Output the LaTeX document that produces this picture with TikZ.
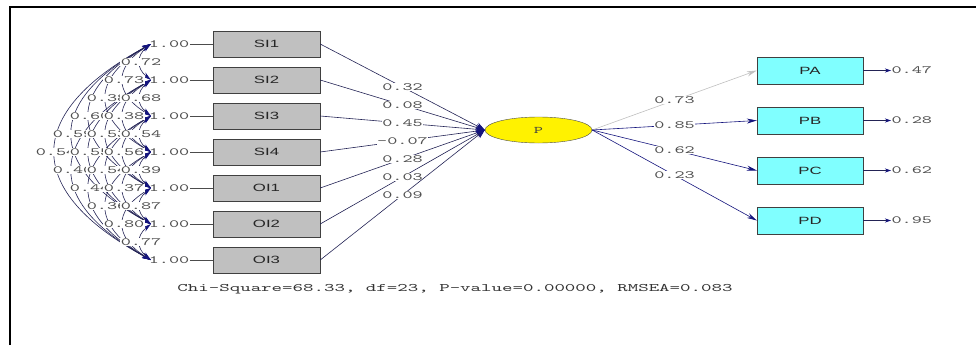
\documentclass[tikz,border=0pt]{standalone}
\usepackage{fontspec}
\usepackage{tikz}
\usetikzlibrary{arrows.meta,shapes.geometric}
\newfontfamily\lisnum{lmmono10-regular.otf}[FakeStretch=1.75]
\newfontfamily\lissans{Liberation Sans}[FakeStretch=1.6]
\definecolor{navyline}{RGB}{35,35,85}
\definecolor{navytip}{RGB}{20,20,125}
\definecolor{boxgray}{RGB}{192,192,192}
\definecolor{boxcyan}{RGB}{128,255,255}
\definecolor{numgray}{RGB}{80,80,80}

\begin{document}
\begin{tikzpicture}[x=1pt,y=-1pt,
  obsbox/.style={draw=black!75,fill=boxgray,minimum width=107pt,minimum height=26pt,inner sep=0pt,text=black!85,font=\lissans\fontsize{10.5}{12}\selectfont},
  indbox/.style={obsbox,fill=boxcyan,minimum width=106pt,minimum height=27pt},
  numlab/.style={font=\lisnum\fontsize{11}{12}\selectfont,text=numgray,fill=white,inner sep=0.4pt},
  cov/.style={navyline,line width=0.6pt,{Stealth[length=9pt,width=5pt,color=navytip]}-{Stealth[length=9pt,width=5pt,color=navytip]}},
  gam/.style={navyline,line width=0.6pt,-{Stealth[length=9pt,width=7pt,color=navytip]}},
  lam/.style={draw=#1,line width=0.6pt,-{Stealth[length=10pt,width=5pt,color=#1]}},
  err/.style={navyline,line width=0.8pt,-{Stealth[length=6pt,width=4pt,color=navytip]}}]
\useasboundingbox (0,0) rectangle (976,345);
\draw[line width=2pt] (10,345) -- (10,7) -- (976,7);

\foreach \n [count=\i] in {SI1,SI2,SI3,SI4,OI1,OI2,OI3} {
  \node[obsbox] (b\i) at (266.5,{44+36*(\i-1)}) {\n};
  \node[numlab] (v\i) at (169,{44+36*(\i-1)}) {1.00};
  \coordinate (c\i) at (151,{44+36*(\i-1)});
  \draw[black!70,line width=0.6pt] (v\i) -- (b\i);
}

\foreach \a/\b in {1/2,1/3,1/4,1/5,1/6,1/7,2/3,2/4,2/5,2/6,2/7,3/4,3/5,3/6,3/7,4/5,4/6,4/7,5/6,5/7,6/7} {
  \pgfmathsetmacro\ax{(17*(\b-\a)-6)/0.75}
  \pgfmathsetmacro\ay{11.5*(\b-\a)}
  \draw[cov] (c\a) .. controls +(-\ax,\ay) and +(-\ax,-\ay) .. (c\b);
}
\foreach \a/\b/\r in {1/2/0.72,1/3/0.73,1/4/0.38,1/5/0.60,1/6/0.59,1/7/0.54,2/3/0.68,2/4/0.38,2/5/0.53,2/6/0.55,2/7/0.40,3/4/0.54,3/5/0.56,3/6/0.54,3/7/0.44,4/5/0.39,4/6/0.37,4/7/0.36,5/6/0.87,5/7/0.80,6/7/0.77}
  \node[numlab] (r\a\b) at ({158-17*(\b-\a)},{44+18*(\a+\b-2)}) {\r};

\node[draw=black!70,fill=yellow,ellipse,minimum width=107pt,minimum height=26pt,inner sep=0pt,text=black!75,font=\lisnum\fontsize{10}{11}\selectfont] (P) at (538.5,130) {P};

\foreach \g [count=\i] in {0.32,0.08,0.45,-0.07,0.28,0.03,0.09}
  \draw[gam] (b\i.east) -- (P.west) node[numlab,pos=0.5] (g\i) {\g};

\foreach \n/\l/\e/\c [count=\i] in {PA/0.73/0.47/black!25,PB/0.85/0.28/navytip,PC/0.62/0.62/navytip,PD/0.23/0.95/navytip} {
  \node[indbox] (\n) at (810,{70.5+50*(\i-1)}) {\n};
  \node[numlab,anchor=west] (e\i) at (891,{70.5+50*(\i-1)}) {\e};
  \draw[err] (\n) -- (e\i);
  \draw[lam=\c] (P.east) -- (\n.west) node[numlab,pos=0.5] (l\i) {\l};
}

\node[font=\lisnum\fontsize{11.4}{12}\selectfont,text=black!80] (fit) at (455,289) {Chi-Square=68.33, df=23, P-value=0.00000, RMSEA=0.083};
\end{tikzpicture}
\end{document}
